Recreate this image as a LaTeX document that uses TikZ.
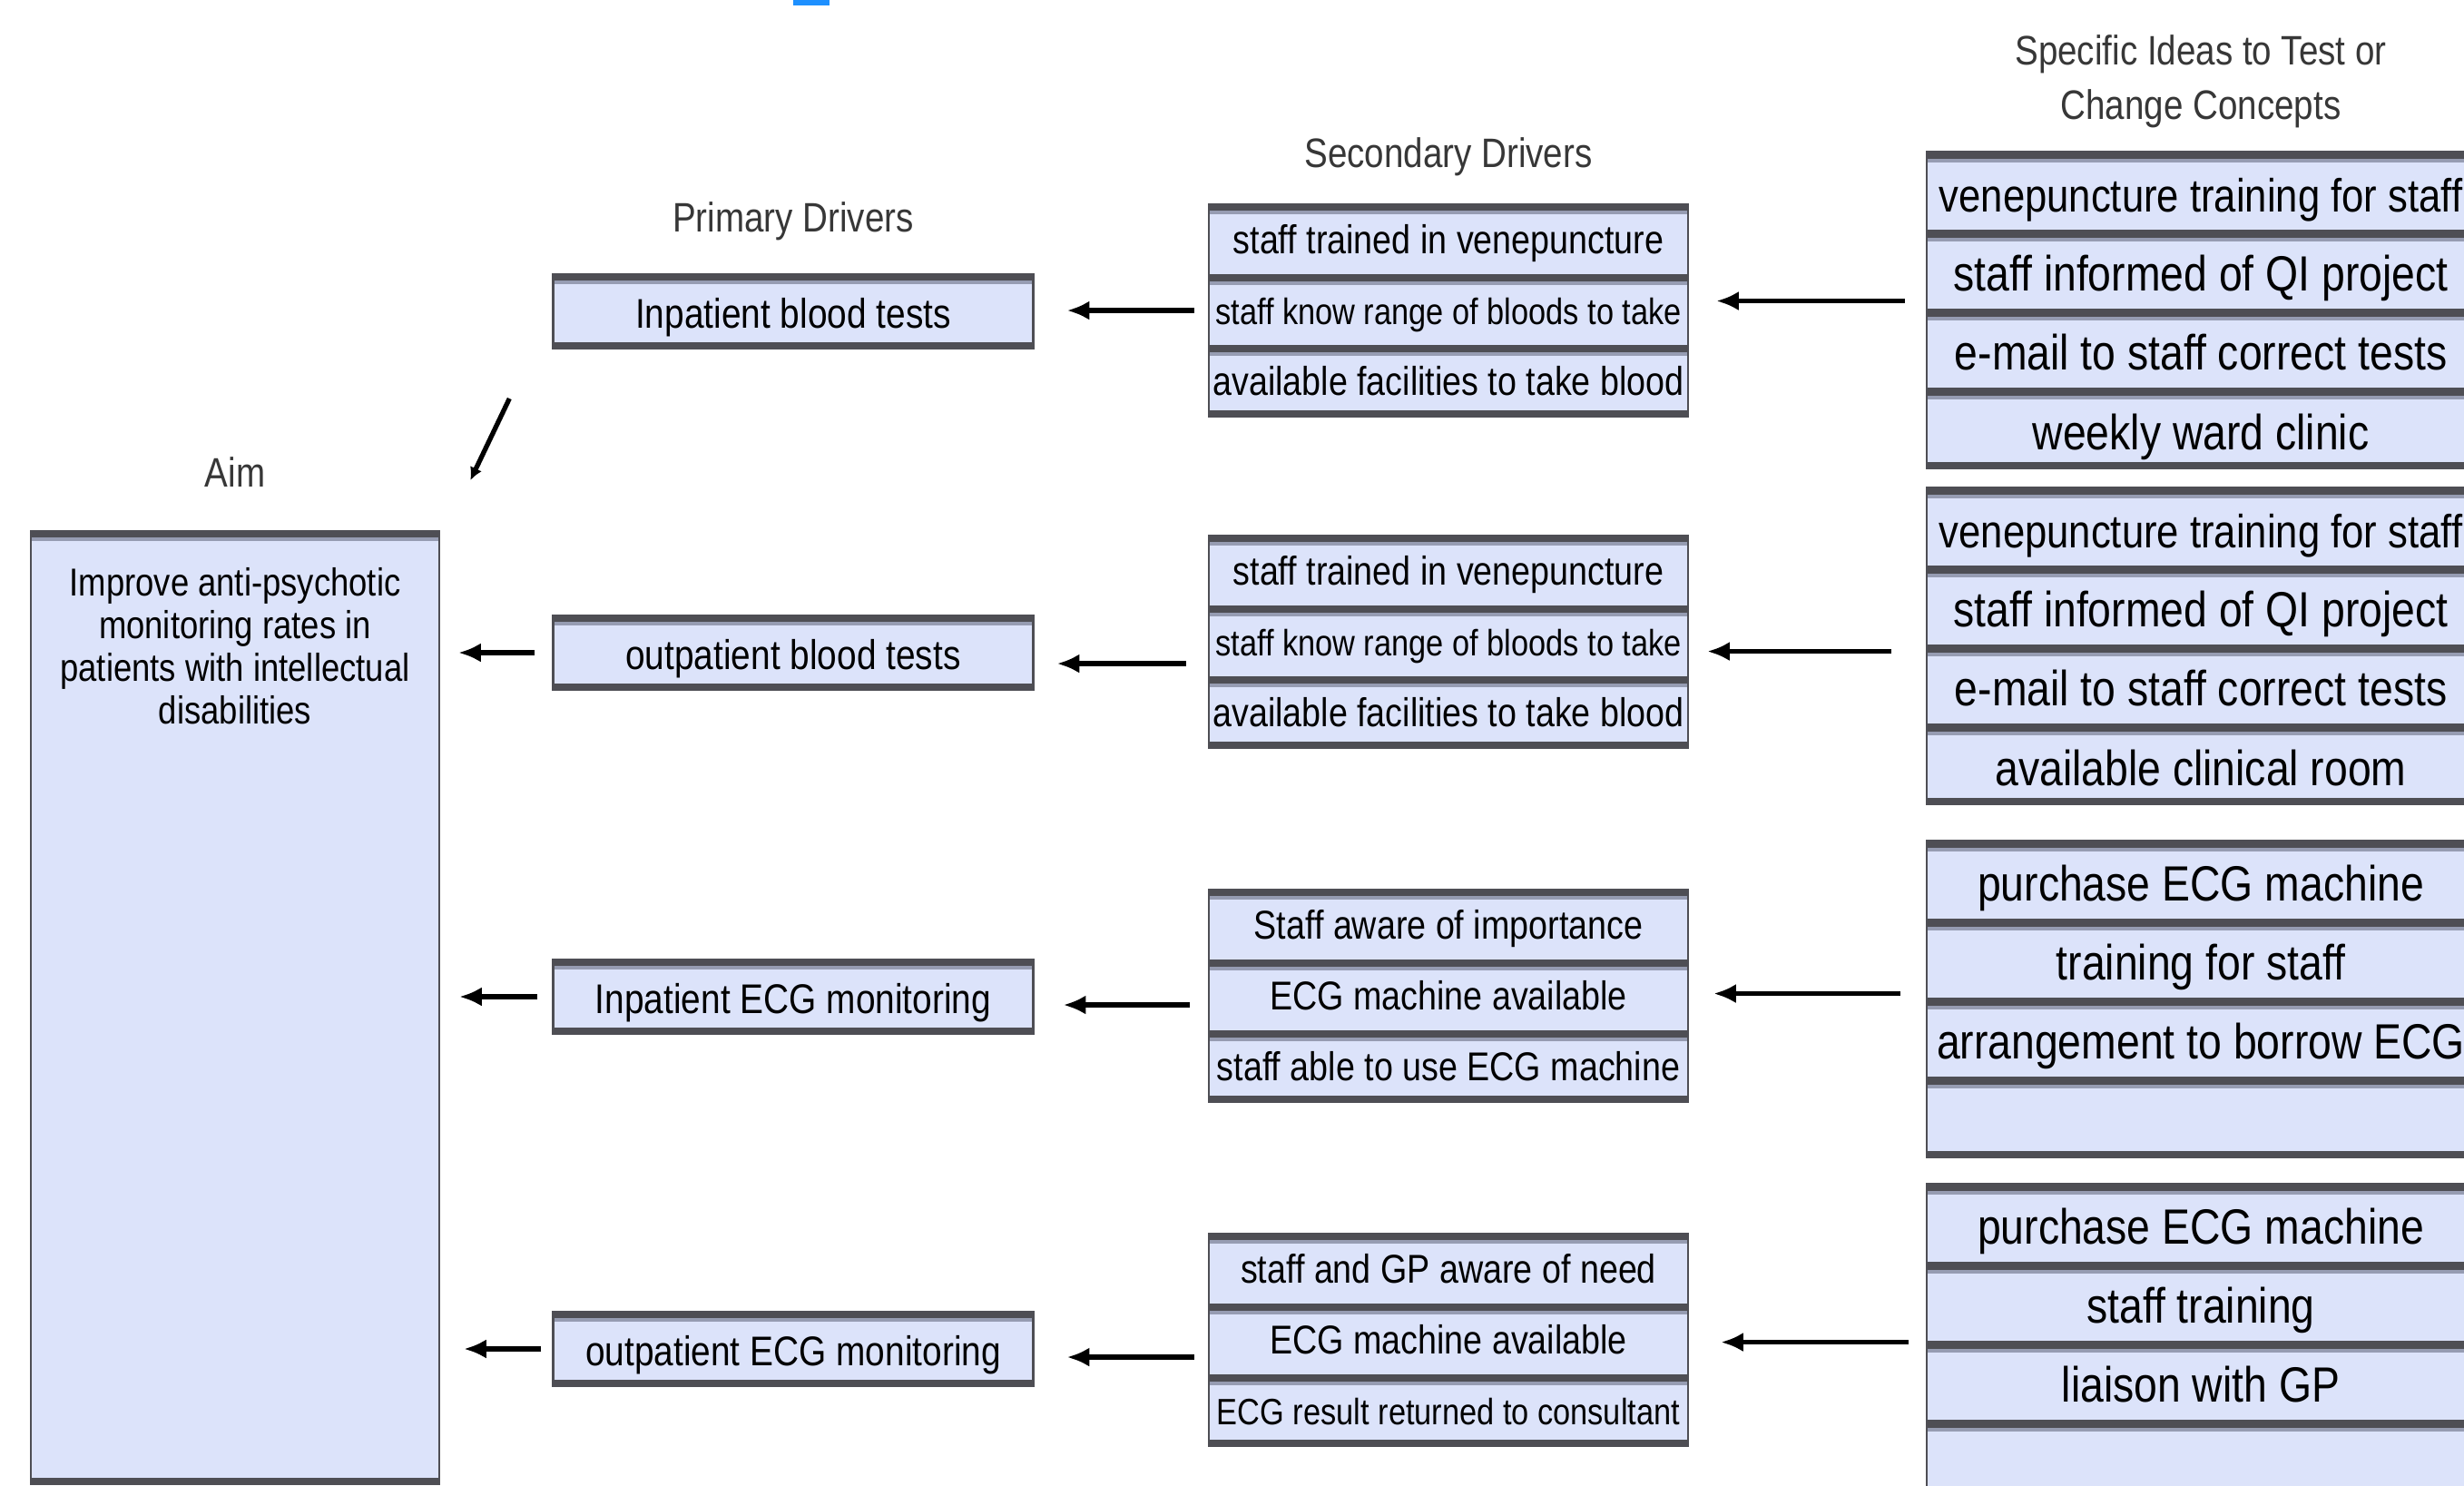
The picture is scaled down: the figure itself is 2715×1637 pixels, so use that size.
\documentclass[tikz,border=0pt]{standalone}
\usepackage{fontspec}
\usetikzlibrary{arrows.meta}
\usetikzlibrary{positioning}

\newfontfamily\dfont[FakeStretch=0.85]{Liberation Sans}

\definecolor{boxfill}{RGB}{220,227,250}
\definecolor{boxline}{RGB}{78,78,84}
\definecolor{boxshade}{RGB}{150,156,178}
\definecolor{headgray}{RGB}{55,55,55}
\definecolor{markblue}{RGB}{30,144,255}

\newcommand{\topband}{%
  \fill[boxline] (path picture bounding box.north west) rectangle ([yshift=-2pt]path picture bounding box.north east);
  \fill[boxshade] ([yshift=-2pt]path picture bounding box.north west) rectangle ([yshift=-3.2pt]path picture bounding box.north east);}
\newcommand{\botband}{%
  \fill[boxline] (path picture bounding box.south west) rectangle ([yshift=2pt]path picture bounding box.south east);}

\begin{document}
\begin{tikzpicture}[
    x=0.01cm, y=-0.01cm,
    >={Latex[length=7pt,width=6pt]},
    every node/.style={font=\dfont},
    head/.style={text=headgray, align=center, inner sep=0pt, font=\dfont\fontsize{12.9}{17}\selectfont},
    aimbox/.style={rectangle, draw=boxline, line width=0.7pt, fill=boxfill, minimum width=4.5cm, minimum height=10.49cm, inner sep=0pt, outer sep=0pt, path picture={\topband\botband}},
    aimfont/.style={align=center, inner sep=0pt, font=\dfont\fontsize{12.2}{13.4}\selectfont},
    primary/.style={rectangle, draw=boxline, line width=0.7pt, fill=boxfill, minimum width=5.29cm, minimum height=0.82cm, inner sep=0pt, outer sep=0pt, text height=13.3pt, text depth=2.7pt, font=\dfont\fontsize{13}{15}\selectfont, path picture={\topband\botband}},
    secrow/.style={rectangle, draw=boxline, line width=0.7pt, fill=boxfill, minimum width=5.28cm, minimum height=0.78cm, inner sep=0pt, outer sep=0pt, text height=12pt, text depth=3pt, font=\dfont\fontsize{12.6}{15}\selectfont, path picture={\topband}},
    seclast/.style={secrow, path picture={\topband\botband}},
    secsmall/.style={font=\dfont\fontsize{11.5}{13}\selectfont},
    idearow/.style={rectangle, draw=boxline, line width=0.7pt, fill=boxfill, minimum width=6.04cm, minimum height=0.87cm, inner sep=0pt, outer sep=0pt, text height=17pt, text depth=4pt, font=\dfont\fontsize{15.5}{17}\selectfont, path picture={\topband}},
    idealast/.style={idearow, path picture={\topband\botband}},
    ideasmall/.style={font=\dfont\fontsize{14.6}{17}\selectfont},
    arr/.style={->, line width=1.5pt}
]

\useasboundingbox (0,0) rectangle (2715,1637);
\clip (0,0) rectangle (2715,1637);
\fill[white] (0,0) rectangle (2715,1637);
\fill[markblue] (874,0) rectangle (914,6);

% Aim
\node[aimbox] (aim) at (259,1110) {};
\node[aimfont, below=0.39cm of aim.north] (aimtext) {Improve anti-psychotic\\monitoring rates in\\patients with intellectual\\disabilities};
\node[head, above=0.48cm of aim] (aimhead) {Aim};

% Primary drivers
\node[primary] (p1) at (874,343) {Inpatient blood tests};
\node[primary] (p2) at (874,719) {outpatient blood tests};
\node[primary] (p3) at (874,1098) {Inpatient ECG monitoring};
\node[primary] (p4) at (874,1486) {outpatient ECG monitoring};
\node[head, above=0.36cm of p1] (primhead) {Primary Drivers};

% Secondary drivers
\node[secrow] (s1a) at (1596,264) {staff trained in venepuncture};
\node[secrow, secsmall, below=0pt of s1a] (s1b) {staff know range of bloods to take};
\node[seclast, below=0pt of s1b] (s1c) {available facilities to take blood};

\node[secrow] (s2a) at (1596,629) {staff trained in venepuncture};
\node[secrow, secsmall, below=0pt of s2a] (s2b) {staff know range of bloods to take};
\node[seclast, below=0pt of s2b] (s2c) {available facilities to take blood};

\node[secrow] (s3a) at (1596,1019) {Staff aware of importance};
\node[secrow, below=0pt of s3a] (s3b) {ECG machine available};
\node[seclast, below=0pt of s3b] (s3c) {staff able to use ECG machine};

\node[secrow] (s4a) at (1596,1398) {staff and GP aware of need};
\node[secrow, below=0pt of s4a] (s4b) {ECG machine available};
\node[seclast, secsmall, below=0pt of s4b] (s4c) {ECG result returned to consultant};

\node[head, above=0.3cm of s1a] (sechead) {Secondary Drivers};

% Change ideas
\node[idearow, ideasmall] (i1a) at (2425,211) {venepuncture training for staff};
\node[idearow, below=0pt of i1a] (i1b) {staff informed of QI project};
\node[idearow, below=0pt of i1b] (i1c) {e-mail to staff correct tests};
\node[idealast, below=0pt of i1c] (i1d) {weekly ward clinic};

\node[idearow, ideasmall] (i2a) at (2425,581) {venepuncture training for staff};
\node[idearow, below=0pt of i2a] (i2b) {staff informed of QI project};
\node[idearow, below=0pt of i2b] (i2c) {e-mail to staff correct tests};
\node[idealast, below=0pt of i2c] (i2d) {available clinical room};

\node[idearow] (i3a) at (2425,970) {purchase ECG machine};
\node[idearow, below=0pt of i3a] (i3b) {training for staff};
\node[idearow, below=0pt of i3b] (i3c) {arrangement to borrow ECG};
\node[idealast, below=0pt of i3c] (i3d) {};

\node[idearow] (i4a) at (2425,1348) {purchase ECG machine};
\node[idearow, below=0pt of i4a] (i4b) {staff training};
\node[idearow, below=0pt of i4b] (i4c) {liaison with GP};
\node[idealast, below=0pt of i4c] (i4d) {};

\node[head, above=0.26cm of i1a] (ideahead) {Specific Ideas to Test or\\Change Concepts};

% Edges
\draw[arr, shorten <=0.24cm, shorten >=0.31cm] ([yshift=0.1cm]i1b.south west) -- ([yshift=0.1cm]i1b.south west -| s1b.east);
\draw[arr, shorten <=0.39cm, shorten >=0.21cm] ([yshift=-0.06cm]i2b.south west) -- ([yshift=-0.06cm]i2b.south west -| s2b.east);
\draw[arr, shorten <=0.29cm, shorten >=0.28cm] ([yshift=0.06cm]i3b.south west) -- ([yshift=0.06cm]i3b.south west -| s3b.east);
\draw[arr, shorten <=0.2cm, shorten >=0.36cm] (i4b.south west) -- (i4b.south west -| s4b.east);

\draw[arr, shorten <=0.16cm, shorten >=0.37cm] (s1b.west) -- (s1b.west -| p1.east);
\draw[arr, shorten <=0.25cm, shorten >=0.26cm] ([yshift=-0.24cm]s2b.west) -- ([yshift=-0.24cm]s2b.west -| p2.east);
\draw[arr, shorten <=0.21cm, shorten >=0.33cm] ([yshift=-0.1cm]s3b.west) -- ([yshift=-0.1cm]s3b.west -| p3.east);
\draw[arr, shorten <=0.16cm, shorten >=0.37cm] ([yshift=-0.19cm]s4b.west) -- ([yshift=-0.19cm]s4b.west -| p4.east);

\draw[arr, shorten <=0.2cm, shorten >=0.21cm] (p2.west) -- (p2.west -| aim.east);
\draw[arr, shorten <=0.17cm, shorten >=0.22cm] (p3.west) -- (p3.west -| aim.east);
\draw[arr, shorten <=0.13cm, shorten >=0.27cm] (p4.west) -- (p4.west -| aim.east);

\coordinate[below left=0.55cm and 0.48cm of p1.south west] (slashtop);
\coordinate[below left=1.45cm and 0.91cm of p1.south west] (slashend);
\draw[line width=1.5pt, -{Latex[length=4pt,width=4pt]}] (slashtop) -- (slashend);

\end{tikzpicture}
\end{document}
